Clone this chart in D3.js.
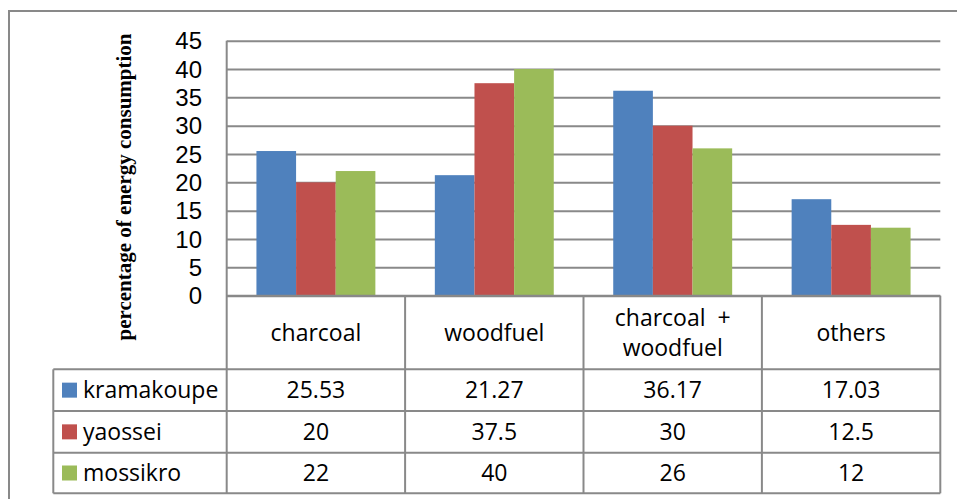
<!DOCTYPE html>
<html><head><meta charset="utf-8">
<script src="https://cdn.jsdelivr.net/npm/d3@7"></script>
<style>
body{margin:0;background:#fff;}
svg{display:block;}
</style></head>
<body><svg id="c" width="957" height="499"></svg>
<script>
const categories = ["charcoal", "woodfuel", "charcoal  +\nwoodfuel", "others"];
const seriesNames = ["kramakoupe", "yaossei", "mossikro"];
const kramakoupe = [25.53, 21.27, 36.17, 17.03];
const yaossei = [20, 37.5, 30, 12.5];
const mossikro = [22, 40, 26, 12];
const seriesValues = [kramakoupe, yaossei, mossikro];
const seriesLabels = [["25.53","21.27","36.17","17.03"],["20","37.5","30","12.5"],["22","40","26","12"]];
const colors = ["#4F81BD", "#C0504D", "#9BBB59"];
const yTicks = [0,5,10,15,20,25,30,35,40,45];
const yTitle = "percentage of energy consumption";

const svg = d3.select("#c");
const font = "'Open Sans', sans-serif";
const fs = 23;
const grid = "#898989";

const L = 226.7, R = 940.3, T = 40.7, B = 295.7;
const tableLeft = 53.3;
const rowY = [295.7, 369.3, 411, 452.7, 493.3];

const x = d3.scaleBand().domain(d3.range(categories.length)).range([L, R]).padding(0);
const xs = d3.scaleBand().domain(d3.range(seriesNames.length)).range([0, x.bandwidth()]).paddingInner(0).paddingOuter(0.75);
const y = d3.scaleLinear().domain([0, 45]).range([B, T]);

// outer chart border
svg.append("path").attr("d", `M9,${rowY[4]+20}V11H${957+10}`).attr("fill","none").attr("stroke",grid).attr("stroke-width",2);

// gridlines
const gAxis = svg.append("g").attr("transform", `translate(${L},0)`)
  .call(d3.axisLeft(y).tickValues(yTicks).tickSize(-(R-L)).tickFormat(""));
gAxis.select(".domain").remove();
gAxis.selectAll(".tick line").attr("stroke", grid).attr("stroke-width", 2);

// tick labels
svg.append("g").selectAll("text").data(yTicks).join("text")
  .attr("x", 202).attr("y", d => y(d)).attr("dy", "0.36em")
  .attr("text-anchor", "end").attr("font-family", "'Liberation Sans', Arial, sans-serif").attr("font-size", 24).attr("fill", "#000")
  .text(d => d);

// bars
seriesValues.forEach((vals, si) => {
  svg.append("g").selectAll("rect").data(vals).join("rect")
    .attr("x", (d, i) => x(i) + xs(si))
    .attr("width", xs.bandwidth())
    .attr("y", d => y(d))
    .attr("height", d => y(0) - y(d))
    .attr("fill", colors[si]);
});

// table lines
const tl = svg.append("g").attr("stroke", grid).attr("stroke-width", 2).attr("fill", "none");
tl.append("line").attr("x1", L).attr("x2", L).attr("y1", T).attr("y2", rowY[4]);
rowY.forEach((yy, i) => {
  tl.append("line").attr("x1", i === 0 ? L : tableLeft).attr("x2", R).attr("y1", yy).attr("y2", yy);
});
d3.range(categories.length).forEach(i => {
  const xx = x(i) + x.bandwidth();
  tl.append("line").attr("x1", xx).attr("x2", xx).attr("y1", rowY[0]).attr("y2", rowY[4]);
});
tl.append("line").attr("x1", tableLeft).attr("x2", tableLeft).attr("y1", rowY[1]).attr("y2", rowY[4]);

// header text
categories.forEach((c, i) => {
  const lines = c.split("\n");
  const cy = (rowY[0] + rowY[1]) / 2;
  const lh = 30;
  const t = svg.append("text").attr("text-anchor", "middle").attr("font-family", font)
    .attr("font-size", fs).attr("fill", "#000").style("white-space","pre");
  lines.forEach((ln, k) => {
    t.append("tspan").attr("x", x(i) + x.bandwidth()/2)
      .attr("y", cy + (k - (lines.length-1)/2) * lh).attr("dy", "0.36em").text(ln);
  });
});

// rows
seriesNames.forEach((s, si) => {
  const cy = (rowY[si+1] + rowY[si+2]) / 2;
  svg.append("rect").attr("x", 62).attr("y", cy - 7.5).attr("width", 15).attr("height", 15).attr("fill", colors[si]);
  svg.append("text").attr("x", 83).attr("y", cy).attr("dy", "0.36em").attr("font-family", font)
    .attr("font-size", fs).attr("fill", "#000").text(s);
  svg.append("g").selectAll("text").data(seriesLabels[si]).join("text")
    .attr("x", (d, i) => x(i) + x.bandwidth()/2).attr("y", cy).attr("dy", "0.36em")
    .attr("text-anchor", "middle").attr("font-family", font).attr("font-size", fs).attr("fill", "#000")
    .text(d => d);
});

// y title
svg.append("text").attr("transform", `translate(124,187) rotate(-90)`)
  .attr("text-anchor", "middle").attr("dy", "0.35em")
  .attr("font-family", "'Liberation Serif', 'Times New Roman', serif").attr("font-weight", "bold")
  .attr("font-size", 21).attr("fill", "#000").text(yTitle);
</script></body></html>
